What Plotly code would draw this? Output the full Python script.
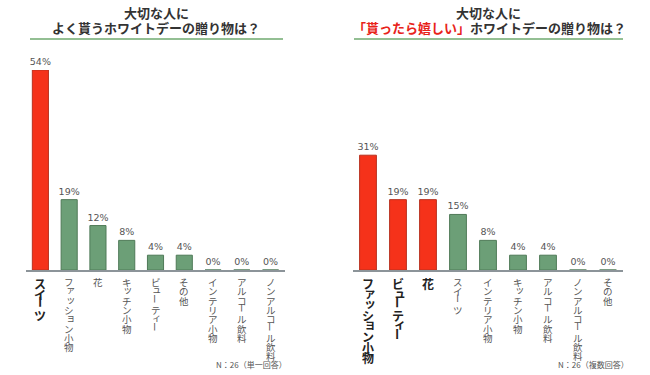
import plotly.graph_objects as go

# ---- data ----
left_categories = ["スイーツ", "ファッション小物", "花", "キッチン小物", "ビューティー",
                   "その他", "インテリア小物", "アルコール飲料", "ノンアルコール飲料"]
left_values = [54, 19, 12, 8, 4, 4, 0, 0, 0]
left_highlight = [True, False, False, False, False, False, False, False, False]

right_categories = ["ファッション小物", "ビューティー", "花", "スイーツ", "インテリア小物",
                    "キッチン小物", "アルコール飲料", "ノンアルコール飲料", "その他"]
right_values = [31, 19, 19, 15, 8, 4, 4, 0, 0]
right_highlight = [True, True, True, False, False, False, False, False, False]

left_title_l1 = "大切な人に"
left_title_l2 = "よく貰うホワイトデーの贈り物は？"
right_title_l1 = "大切な人に"
right_title_red = "「貰ったら嬉しい」"
right_title_rest = "ホワイトデーの贈り物は？"
left_note = "N：26（単一回答）"
right_note = "N：26（複数回答）"

RED = "#f5321a"
RED_LINE = "#b8311f"
GREEN = "#6c9f77"
GREEN_LINE = "#4f7a58"
W, H = 650, 375

fig = go.Figure()

def add_bars(cats, vals, hl, xa, ya):
    idx = list(range(len(cats)))
    fig.add_trace(go.Bar(
        x=idx, y=vals, xaxis=xa, yaxis=ya,
        marker=dict(color=[RED if h else GREEN for h in hl],
                    line=dict(color=[RED_LINE if h else GREEN_LINE for h in hl], width=1)),
        text=[f"{v}%" for v in vals], textposition="outside", constraintext="none",
        textfont=dict(family="DejaVu Sans", size=9.5, color="#555555"),
        cliponaxis=False, showlegend=False, hoverinfo="skip"))

add_bars(left_categories, left_values, left_highlight, "x", "y")
add_bars(right_categories, right_values, right_highlight, "x2", "y2")

ybot = (H - 270) / H
ytop = (H - 70) / H
axis_common = dict(showgrid=False, zeroline=False, showticklabels=False, ticks="")
fig.update_layout(
    width=W, height=H, margin=dict(l=0, r=0, t=0, b=0),
    paper_bgcolor="white", plot_bgcolor="white", bargap=0.44,
    xaxis=dict(domain=[26 / W, 285 / W], range=[-0.5, 8.5], showline=True,
               linecolor="#8c9499", linewidth=2, **axis_common),
    yaxis=dict(domain=[ybot, ytop], range=[0, 54], showline=False, **axis_common),
    xaxis2=dict(domain=[353 / W, 623 / W], range=[-0.5, 8.5], showline=True,
                linecolor="#8c9499", linewidth=2, anchor="y2", **axis_common),
    yaxis2=dict(domain=[ybot, ytop], range=[0, 54], showline=False, anchor="x2", **axis_common),
)

ann = []
small_kana = set("ァィゥェォッャュョ")

def add_labels(cats, hl, xref, yref):
    for i, (lab, h) in enumerate(zip(cats, hl)):
        step = 10.6 if h else 9.3
        size = 12 if h else 9.5
        color = "#222222" if h else "#555555"
        fam = "Noto Sans CJK JP"
        for j, ch in enumerate(lab):
            xs, ys = 0, 0
            if ch in small_kana:
                xs, ys = 1.5, 2
            ann.append(dict(
                x=i, y=0, xref=xref, yref=yref, xanchor="center", yanchor="top",
                text=f"<b>{ch}</b>" if h else ch, showarrow=False,
                textangle=90 if ch == "ー" else 0,
                font=dict(family=fam, size=size, color=color),
                xshift=xs, yshift=-(3 + j * step) + ys))

add_labels(left_categories, left_highlight, "x", "y")
add_labels(right_categories, right_highlight, "x2", "y2")

title_font = dict(family="Noto Sans CJK JP", size=13, color="#333333")

def title_line(xc, yc, text):
    ann.append(dict(x=xc / W, y=1 - yc / H, xref="paper", yref="paper", xanchor="center",
                    yanchor="middle", text=f"<b>{text}</b>", showarrow=False, font=title_font))

title_line(156, 13, left_title_l1)
title_line(156, 28, left_title_l2)
title_line(488, 13, right_title_l1)
title_line(489, 28, f"<span style='color:#e8231a'>{right_title_red}</span>{right_title_rest}")

note_font = dict(family="Noto Sans CJK JP", size=8, color="#555555")
ann.append(dict(x=289 / W, y=1 - 364 / H, xref="paper", yref="paper", xanchor="right",
                yanchor="middle", text=left_note, showarrow=False, font=note_font))
ann.append(dict(x=631 / W, y=1 - 364 / H, xref="paper", yref="paper", xanchor="right",
                yanchor="middle", text=right_note, showarrow=False, font=note_font))

fig.update_layout(annotations=ann)

uy = 1 - 39 / H
fig.add_shape(type="line", xref="paper", yref="paper", x0=30 / W, x1=283 / W, y0=uy, y1=uy,
              line=dict(color="#93bf93", width=2))
fig.add_shape(type="line", xref="paper", yref="paper", x0=354 / W, x1=623 / W, y0=uy, y1=uy,
              line=dict(color="#93bf93", width=2))

fig.write_html("out.html")
